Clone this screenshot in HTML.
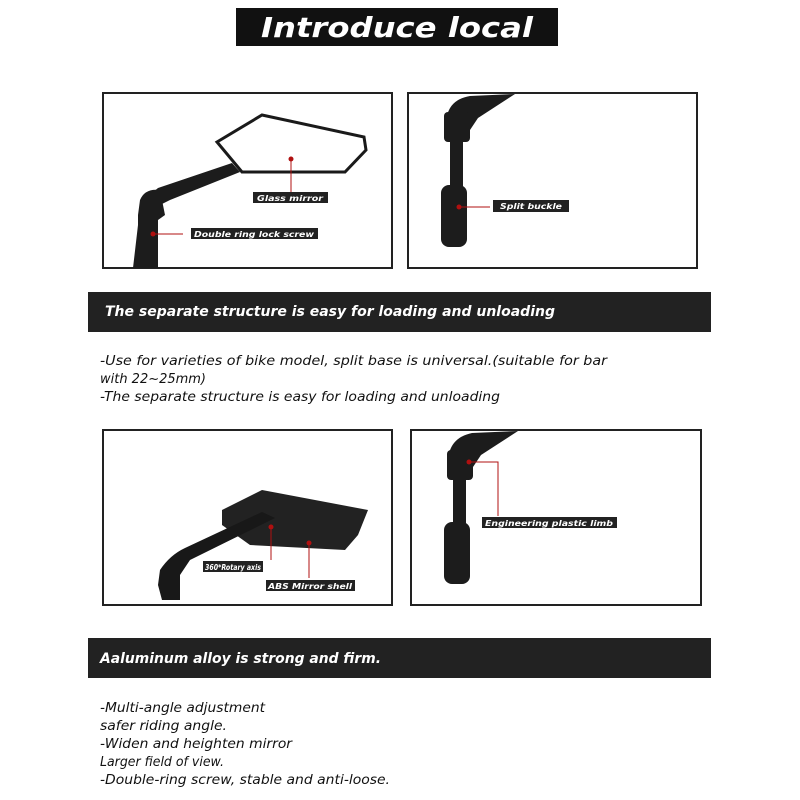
<!DOCTYPE html>
<html><head><meta charset="utf-8"><style>
html,body{margin:0;padding:0;background:#fff;width:800px;height:800px;overflow:hidden}
svg{display:block}
.t{font-family:"DejaVu Sans","Liberation Sans",sans-serif;font-style:italic}
.lb{font-family:"DejaVu Sans","Liberation Sans",sans-serif;font-style:italic;font-weight:bold;font-size:8px;fill:#fff}
</style></head><body>
<svg width="800" height="800" viewBox="0 0 800 800" xmlns="http://www.w3.org/2000/svg">
<!-- title -->
<rect x="236" y="8" width="322" height="38" fill="#111"/>
<text x="397" y="37" text-anchor="middle" class="t" font-weight="bold" font-size="28" fill="#fff" textLength="272" lengthAdjust="spacingAndGlyphs">Introduce local</text>

<!-- panels -->
<g fill="#fff" stroke="#222" stroke-width="2">
<rect x="103" y="93" width="289" height="175"/>
<rect x="408" y="93" width="289" height="175"/>
<rect x="103" y="430" width="289" height="175"/>
<rect x="411" y="430" width="290" height="175"/>
</g>

<!-- panel 1 -->
<polygon points="217,142 262,115 364,137 366,150 345,172 242,172" fill="#fff" stroke="#1a1a1a" stroke-width="3"/>
<path d="M232,163 L240,172 L170,200 L160,205 L150,210 L146,198 L158,188 Z" fill="#1c1c1c"/>
<path d="M140,200 Q145,188 160,190 L165,215 L158,220 L158,268 L133,268 L138,225 L138,215 Z" fill="#1c1c1c"/>
<circle cx="291" cy="159" r="2.5" fill="#b01010"/>
<line x1="291" y1="159" x2="291" y2="192" stroke="#b01010" stroke-width="1"/>
<rect x="253" y="192" width="75" height="11" fill="#222"/>
<text x="290" y="201" text-anchor="middle" class="lb" textLength="66" lengthAdjust="spacingAndGlyphs">Glass mirror</text>
<circle cx="153" cy="234" r="2.5" fill="#b01010"/>
<line x1="153" y1="234" x2="183" y2="234" stroke="#b01010" stroke-width="1"/>
<rect x="191" y="228" width="127" height="11" fill="#222"/>
<text x="254" y="237" text-anchor="middle" class="lb" textLength="120" lengthAdjust="spacingAndGlyphs">Double ring lock screw</text>

<!-- panel 2 -->
<path d="M446,125 Q446,100 470,96 L515,94 L478,118 L470,130 Z" fill="#1c1c1c"/>
<rect x="444" y="112" width="26" height="30" rx="4" fill="#1c1c1c"/>
<rect x="450" y="140" width="13" height="50" fill="#1c1c1c"/>
<rect x="441" y="185" width="26" height="62" rx="8" fill="#1c1c1c"/>
<circle cx="459" cy="207" r="2.5" fill="#b01010"/>
<line x1="459" y1="207" x2="490" y2="207" stroke="#b01010" stroke-width="1"/>
<rect x="493" y="200" width="76" height="12" fill="#222"/>
<text x="531" y="209" text-anchor="middle" class="lb" textLength="62" lengthAdjust="spacingAndGlyphs">Split buckle</text>

<!-- bar 2 -->
<rect x="88" y="292" width="623" height="40" fill="#222"/>
<text x="105" y="316" class="t" font-weight="bold" font-size="14" fill="#fff" textLength="450" lengthAdjust="spacingAndGlyphs">The separate structure is easy for loading and unloading</text>
<g class="t" font-size="13.5" fill="#111">
<text x="100" y="365" textLength="507" lengthAdjust="spacingAndGlyphs">-Use for varieties of bike model, split base is universal.(suitable for bar</text>
<text x="100" y="383" textLength="106" lengthAdjust="spacingAndGlyphs">with 22~25mm)</text>
<text x="100" y="401" textLength="400" lengthAdjust="spacingAndGlyphs">-The separate structure is easy for loading and unloading</text>
</g>

<!-- panel 3 -->
<path d="M222,510 L262,490 L368,510 L358,535 L345,550 L250,545 L222,525 Z" fill="#222"/>
<path d="M262,512 L275,518 L190,560 L180,575 L180,600 L162,600 L158,585 L160,570 Q170,555 185,548 Z" fill="#181818"/>
<circle cx="271" cy="527" r="2.5" fill="#b01010"/>
<line x1="271" y1="527" x2="271" y2="560" stroke="#b01010" stroke-width="1"/>
<circle cx="309" cy="543" r="2.5" fill="#b01010"/>
<line x1="309" y1="543" x2="309" y2="578" stroke="#b01010" stroke-width="1"/>
<rect x="203" y="561" width="60" height="11" fill="#222"/>
<text x="233" y="570" text-anchor="middle" class="lb" textLength="56" lengthAdjust="spacingAndGlyphs">360*Rotary axis</text>
<rect x="266" y="580" width="89" height="11" fill="#222"/>
<text x="310" y="589" text-anchor="middle" class="lb" textLength="84" lengthAdjust="spacingAndGlyphs">ABS Mirror shell</text>

<!-- panel 4 -->
<path d="M448,463 Q448,438 472,433 L518,431 L481,455 L473,467 Z" fill="#1c1c1c"/>
<rect x="447" y="450" width="26" height="30" rx="4" fill="#1c1c1c"/>
<rect x="453" y="478" width="13" height="50" fill="#1c1c1c"/>
<rect x="444" y="522" width="26" height="62" rx="8" fill="#1c1c1c"/>
<circle cx="469" cy="462" r="2.5" fill="#b01010"/>
<polyline points="469,462 498,462 498,516" fill="none" stroke="#b01010" stroke-width="1"/>
<rect x="482" y="517" width="135" height="11" fill="#222"/>
<text x="549" y="526" text-anchor="middle" class="lb" textLength="128" lengthAdjust="spacingAndGlyphs">Engineering plastic limb</text>

<!-- bar 3 -->
<rect x="88" y="638" width="623" height="40" fill="#222"/>
<text x="100" y="663" class="t" font-weight="bold" font-size="14" fill="#fff" textLength="281" lengthAdjust="spacingAndGlyphs">Aaluminum alloy is strong and firm.</text>
<g class="t" font-size="13.5" fill="#111">
<text x="100" y="712" textLength="165" lengthAdjust="spacingAndGlyphs">-Multi-angle adjustment</text>
<text x="100" y="730" textLength="127" lengthAdjust="spacingAndGlyphs">safer riding angle.</text>
<text x="100" y="748" textLength="192" lengthAdjust="spacingAndGlyphs">-Widen and heighten mirror</text>
<text x="100" y="766" textLength="124" lengthAdjust="spacingAndGlyphs">Larger field of view.</text>
<text x="100" y="784" textLength="290" lengthAdjust="spacingAndGlyphs">-Double-ring screw, stable and anti-loose.</text>
</g>
</svg>
</body></html>
